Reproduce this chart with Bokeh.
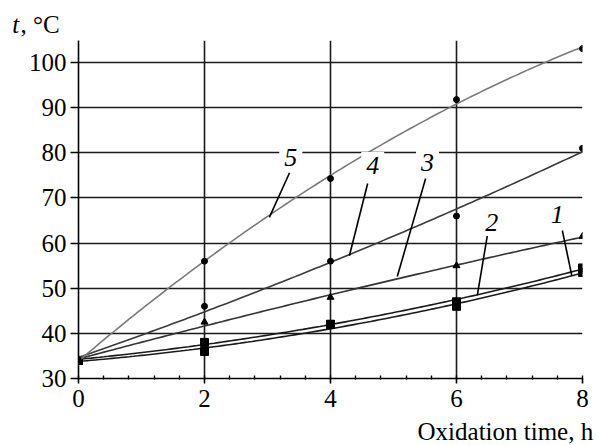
import numpy as np
from bokeh.plotting import figure
from bokeh.models import FixedTicker, Label, Range1d
from bokeh.embed import file_html
from bokeh.resources import INLINE

# ---- data ----
hours = [0, 2, 4, 6, 8]
t1 = [34, 36, 42, 46, 53.5]
t2 = [34, 38, 42, 47, 54.5]
t3 = [34, 42.5, 48, 55, 61.5]
t4 = [34, 46, 56, 66, 81]
t5 = [34, 56, 74.3, 91.8, 103.1]
y_ticks = [30, 40, 50, 60, 70, 80, 90, 100]
x_ticks = [0, 2, 4, 6, 8]

FONT = "Liberation Serif"
AXIS_FONT = "Liberation Serif, serif"

p = figure(frame_width=504, frame_height=338, output_backend="svg", toolbar_location=None,
           x_range=Range1d(0, 8), y_range=Range1d(30, 104.9),
           min_border_left=78, min_border_right=12, min_border_top=40,
           min_border_bottom=67)
p.outline_line_color = None
p.background_fill_color = "white"

# grid
for g in (p.xgrid, p.ygrid):
    g.grid_line_color = "#1a1a1a"
    g.grid_line_width = 1.6

# axes
p.xaxis.ticker = FixedTicker(ticks=x_ticks, minor_ticks=list(np.round(np.arange(0, 8.01, 0.4), 2)))
p.yaxis.ticker = FixedTicker(ticks=y_ticks)
for ax in (p.xaxis[0], p.yaxis[0]):
    ax.axis_line_color = "black"
    ax.axis_line_width = 1.6
    ax.major_tick_line_color = "black"
    ax.major_tick_line_width = 1.6
    ax.major_label_text_font = AXIS_FONT
    ax.major_label_text_font_size = "25px"
    ax.major_label_text_color = "black"
p.xaxis.major_tick_out = 5
p.xaxis.major_tick_in = 0
p.xaxis.minor_tick_in = 3
p.xaxis.minor_tick_out = 1
p.xaxis.minor_tick_line_color = "black"
p.xaxis.minor_tick_line_width = 1.4
p.xaxis.major_label_standoff = 6
p.yaxis.major_tick_out = 8
p.yaxis.major_tick_in = 0
p.yaxis.minor_tick_line_color = None
p.yaxis.major_label_standoff = 4

# fitted curves + markers
xs = np.linspace(0, 8, 120)
series = [
    (t1, "#1a1a1a", "square", 8),
    (t2, "#1a1a1a", "square", 8),
    (t3, "#333333", "triangle", 7),
    (t4, "#3a3a3a", "circle", 6),
    (t5, "#7a7a7a", "circle", 6),
]
for ys, col, mk, sz in series:
    coef = np.polyfit(hours, ys, 2)
    p.line(xs, np.polyval(coef, xs), line_color=col, line_width=1.6)
    p.scatter(hours, ys, marker=mk, size=sz, fill_color="black", line_color="black")

# curve labels with leader lines
labels = [
    ("5", 3.37, 78.96, (3.35, 75.6), (3.03, 65.7)),
    ("4", 4.67, 77.2, (4.59, 73.2), (4.30, 57.2)),
    ("3", 5.54, 77.85, (5.51, 74.3), (5.06, 52.6)),
    ("2", 6.56, 64.56, (6.49, 61.7), (6.33, 48.4)),
    ("1", 7.60, 66.3, (7.68, 62.8), (7.83, 52.8)),
]
for txt, lx, ly, a, b in labels:
    p.line([a[0], b[0]], [a[1], b[1]], line_color="black", line_width=1.6)
    p.add_layout(Label(x=lx, y=ly, text=txt, text_font=FONT, text_font_style="italic",
                       text_font_size="26px", text_align="center", text_baseline="middle",
                       text_color="black", background_fill_color="white", padding=5))

# axis titles (in side panels, positioned in data units)
p.add_layout(Label(x=-1.05, y=108.4, text="t", text_font=FONT, text_font_style="italic",
                   text_font_size="25px", text_baseline="alphabetic", text_color="black"), "left")
p.add_layout(Label(x=-0.92, y=108.4, text=", °C", text_font=FONT, text_font_size="25px",
                   text_baseline="alphabetic", text_color="black"), "above")
p.add_layout(Label(x=8.17, y=18.3, text="Oxidation time, h", text_font=FONT,
                   text_font_size="25px", text_align="right", text_baseline="alphabetic",
                   text_color="black"), "below")

open("out.html", "w").write(file_html(p, INLINE))
